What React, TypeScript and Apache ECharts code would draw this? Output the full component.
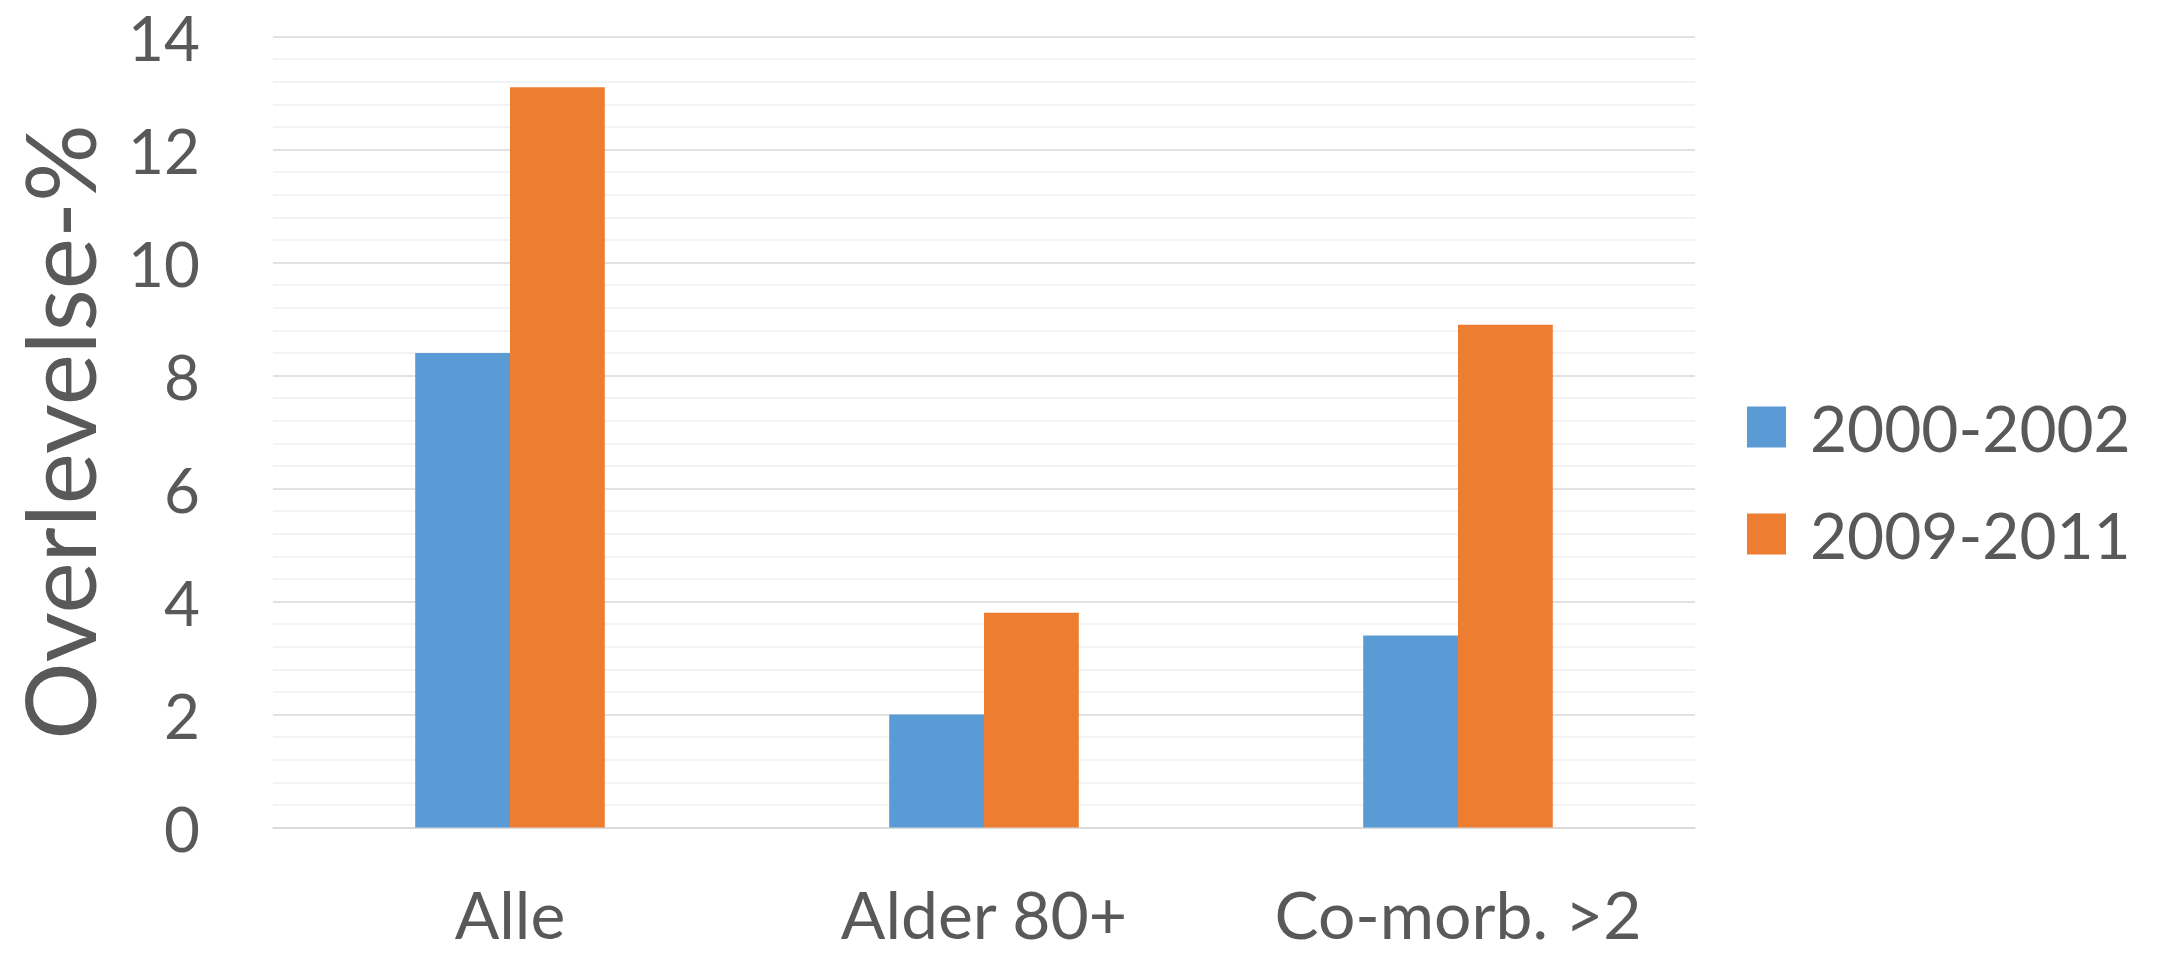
import React, { useEffect, useRef } from "react";
import * as echarts from "echarts";

const categories = ["Alle", "Alder 80+", "Co-morb. >2"];
const seriesNames = ["2000-2002", "2009-2011"];
const values2000 = [8.4, 2.0, 3.4];
const values2009 = [13.1, 3.8, 8.9];
const yTicks = { min: 0, max: 14, interval: 2 };
const yTitle = "Overlevelse-%";

const FONT = "Lato";
const TEXT = "#595959";

export default function App() {
  const ref = useRef<HTMLDivElement>(null);
  useEffect(() => {
    if (!ref.current) return;
    const chart = echarts.init(ref.current, undefined, { renderer: "svg" });
    chart.setOption({
      animation: false,
      backgroundColor: "#ffffff",
      textStyle: { fontFamily: FONT, color: TEXT },
      grid: {
        left: 273,
        right: 466,
        top: 36.5,
        bottom: 125.5,
        containLabel: false,
        outerBoundsMode: "none",
      },
      legend: {
        orient: "vertical",
        left: 1742,
        top: 389,
        itemWidth: 39,
        itemHeight: 41,
        itemGap: 41,
        icon: "rect",
        data: seriesNames,
        textStyle: {
          fontFamily: FONT,
          fontSize: 64,
          color: TEXT,
          lineHeight: 66,
          padding: [0, 0, 0, 19],
        },
      },
      xAxis: {
        type: "category",
        data: categories,
        axisTick: { show: false },
        axisLine: { show: true, lineStyle: { color: "#d9d9d9", width: 1.5 } },
        axisLabel: {
          interval: 0,
          hideOverlap: false,
          fontFamily: FONT,
          fontSize: 66,
          lineHeight: 60,
          color: TEXT,
          margin: 86,
          verticalAlign: "middle",
        },
      },
      yAxis: {
        type: "value",
        min: yTicks.min,
        max: yTicks.max,
        interval: yTicks.interval,
        name: yTitle,
        nameLocation: "middle",
        nameRotate: 90,
        nameGap: 166,
        nameTextStyle: { fontFamily: FONT, fontSize: 97, color: TEXT },
        axisLine: { show: false },
        axisTick: { show: false },
        axisLabel: { fontFamily: FONT, fontSize: 62, color: TEXT, margin: 73 },
        splitLine: { show: true, lineStyle: { color: "#d9d9d9", width: 1.5 } },
        minorTick: { show: false, splitNumber: 5 },
        minorSplitLine: { show: true, lineStyle: { color: "#efefef", width: 1.5 } },
      },
      series: [
        {
          name: seriesNames[0],
          type: "bar",
          data: values2000,
          barGap: "0%",
          barCategoryGap: "60%",
          itemStyle: { color: "#5B9BD5" },
        },
        {
          name: seriesNames[1],
          type: "bar",
          data: values2009,
          barGap: "0%",
          barCategoryGap: "60%",
          itemStyle: { color: "#ED7D31" },
        },
      ],
    });
    return () => chart.dispose();
  }, []);
  return (
    <div
      ref={ref}
      style={{ position: "fixed", left: 0, top: 0, width: 2161, height: 953, background: "#fff" }}
    />
  );
}
